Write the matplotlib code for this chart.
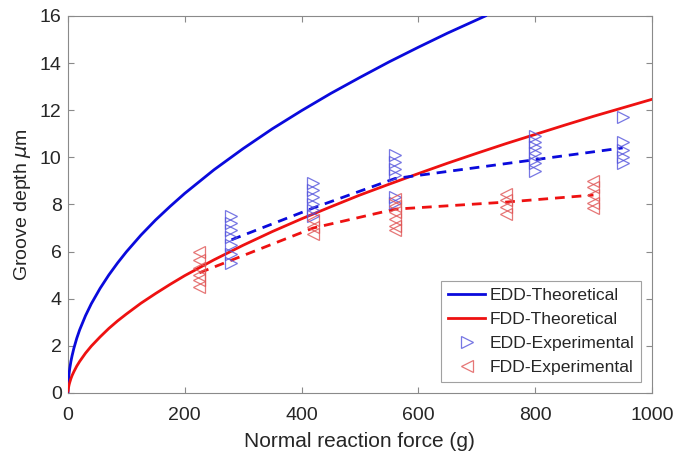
import matplotlib
matplotlib.use("Agg")
import matplotlib.pyplot as plt

plt.rcParams['font.family'] = ['Liberation Sans', 'DejaVu Sans']
plt.rcParams['mathtext.fontset'] = 'dejavusans'

# Theoretical curves
edd_theo_force = [0, 0.25, 0.5, 1, 2, 3, 5, 7, 10, 15, 20, 30, 40, 55, 70, 85, 100, 125, 150, 175,
                  200, 250, 300, 350, 400, 450, 500, 550, 600, 650, 715]
edd_theo_depth = [0, 0.30, 0.42, 0.60, 0.85, 1.04, 1.34, 1.58, 1.89, 2.32, 2.68, 3.28, 3.79, 4.44,
                  5.01, 5.52, 5.99, 6.70, 7.34, 7.92, 8.47, 9.47, 10.37, 11.21, 11.98, 12.71, 13.39,
                  14.05, 14.67, 15.27, 16.0]

fdd_theo_force = [0, 0.25, 0.5, 1, 2, 3, 5, 7, 10, 15, 20, 30, 40, 55, 70, 85, 100, 125, 150, 175,
                  200, 250, 300, 350, 400, 450, 500, 550, 600, 650, 700, 750, 800, 850, 900, 950, 1000]
fdd_theo_depth = [0.08, 0.11, 0.16, 0.24, 0.36, 0.45, 0.61, 0.74, 0.90, 1.14, 1.34, 1.69, 1.99, 2.38,
                  2.74, 3.06, 3.35, 3.81, 4.22, 4.61, 4.98, 5.65, 6.27, 6.85, 7.39, 7.90, 8.40, 8.86,
                  9.31, 9.75, 10.17, 10.58, 10.97, 11.36, 11.74, 12.10, 12.46]

# Experimental data
edd_forces = [280, 420, 560, 800, 950]
edd_depths = [
    [7.5, 7.2, 6.9, 6.6, 6.3, 5.9, 5.5],
    [8.9, 8.6, 8.3, 8.0, 7.75, 7.5],
    [10.1, 9.8, 9.5, 9.25, 8.3, 8.05],
    [10.9, 10.65, 10.45, 10.2, 9.95, 9.75, 9.4],
    [11.7, 10.65, 10.3, 10.0, 9.75],
]
edd_means = [6.5, 7.85, 9.1, 9.9, 10.4]

fdd_forces = [225, 420, 560, 750, 900]
fdd_depths = [
    [6.0, 5.65, 5.3, 5.0, 4.8, 4.5],
    [7.35, 7.05, 6.75],
    [8.25, 7.95, 7.7, 7.4, 7.1, 6.9],
    [8.45, 8.2, 7.9, 7.6],
    [9.0, 8.75, 8.4, 8.05, 7.85],
]
fdd_means = [5.1, 7.0, 7.8, 8.1, 8.4]

x_ticks = [0, 200, 400, 600, 800, 1000]
y_ticks = [0, 2, 4, 6, 8, 10, 12, 14, 16]

fig = plt.figure(figsize=(6.84, 4.55), dpi=100)
ax = fig.add_axes([0.0994, 0.1363, 0.8536, 0.8287])

ax.plot(edd_theo_force, edd_theo_depth, color='#0a0adc', lw=2.0, label='EDD-Theoretical', zorder=3)
ax.plot(fdd_theo_force, fdd_theo_depth, color='#ee1111', lw=2.0, label='FDD-Theoretical', zorder=3)

ex, ey = [], []
for f, ds in zip(edd_forces, edd_depths):
    ex += [f] * len(ds)
    ey += ds
fx, fy = [], []
for f, ds in zip(fdd_forces, fdd_depths):
    fx += [f] * len(ds)
    fy += ds

ax.plot(ex, ey, linestyle='none', marker='>', markersize=8.5, markerfacecolor='none',
        markeredgecolor='#5555dd', markeredgewidth=0.9, alpha=0.8, label='EDD-Experimental', zorder=4)
ax.plot(fx, fy, linestyle='none', marker='<', markersize=8.5, markerfacecolor='none',
        markeredgecolor='#e05555', markeredgewidth=0.9, alpha=0.8, label='FDD-Experimental', zorder=4)

ax.plot(edd_forces, edd_means, color='#0a0adc', lw=2.0, linestyle=(0, (3.5, 2.5)), zorder=3)
ax.plot(fdd_forces, fdd_means, color='#ee1111', lw=2.0, linestyle=(0, (3.5, 2.5)), zorder=3)

ax.set_xlim(0, 1000)
ax.set_ylim(0, 16)
ax.set_xticks(x_ticks)
ax.set_yticks(y_ticks)
ax.tick_params(direction='in', top=True, right=True, labelsize=14, labelcolor='#262626',
               color='#8a8a8a', length=4, width=0.8)
ax.tick_params(axis='x', pad=10)
ax.tick_params(axis='y', pad=4.5)
for s in ax.spines.values():
    s.set_color('#8a8a8a')
    s.set_linewidth(0.8)

ax.set_xlabel('Normal reaction force (g)', fontsize=15, color='#262626', labelpad=6)
ax.set_ylabel('Groove depth $\\mu$m', fontsize=14, color='#262626', labelpad=5)

leg = ax.legend(loc='lower right', fontsize=12.6, frameon=True, fancybox=False,
                edgecolor='#8a8a8a', borderpad=0.4, labelspacing=0.5, handlelength=2.1,
                handletextpad=0.25, borderaxespad=0.62)
leg.get_frame().set_linewidth(0.8)
for t in leg.get_texts():
    t.set_color('#262626')

fig.savefig('out.png', dpi=100)
